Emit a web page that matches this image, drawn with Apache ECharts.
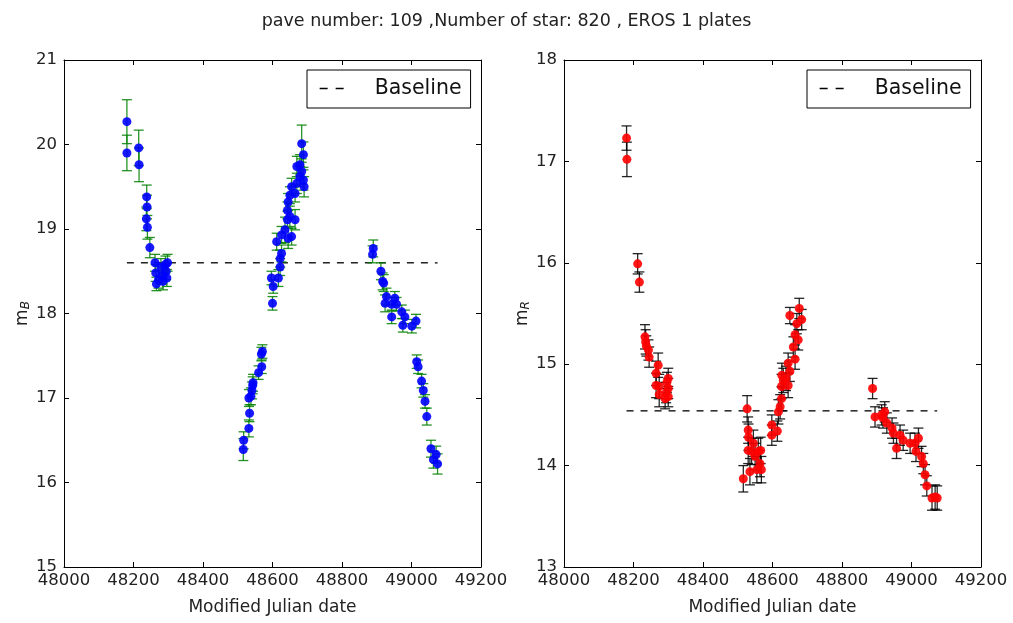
<!DOCTYPE html>
<html>
<head>
<meta charset="utf-8">
<script src="https://cdn.jsdelivr.net/npm/echarts@6/dist/echarts.min.js"></script>
<style>html,body{margin:0;padding:0;background:#fff}#c{width:1013px;height:623px}</style>
</head>
<body>
<div id="c"></div>
<script>
// ---------- data ----------
const titleText = 'pave number: 109 ,Number of star: 820 , EROS 1 plates';
const xTicks = [48000, 48200, 48400, 48600, 48800, 49000, 49200];
const yTicksB = [15, 16, 17, 18, 19, 20, 21];
const yTicksR = [13, 14, 15, 16, 17, 18];

const dateB = [48181,48181,48215,48216,48238,48239,48237,48240,48247,48262,48264,48266,48272,48279,48283,48285,48292,48294,48296,48298,
  48516,48517,48532,48534,48532,48538,48541,48543,48544,48560,48569,48568,48571,
  48600,48602,48597,48617,48622,48622,48626,48612,48626,48636,48645,48655,48643,48650,48665,48643,48645,48650,48655,48665,48670,48670,48679,48684,48679,48689,48691,48689,48684,
  48890,48888,48912,48917,48920,48928,48924,48952,48943,48957,48943,48972,48981,48975,49001,49013,49015,49019,49029,49034,49039,49044,49056,49063,49071,49075];
const magB = [20.27,19.90,19.96,19.76,19.38,19.26,19.12,19.02,18.78,18.60,18.48,18.35,18.40,18.55,18.45,18.38,18.58,18.50,18.42,18.60,
  16.39,16.50,16.64,16.82,17.00,17.02,17.09,17.15,17.18,17.30,17.37,17.52,17.55,
  18.12,18.32,18.42,18.42,18.55,18.65,18.71,18.85,18.93,18.99,18.89,18.91,19.11,19.15,19.11,19.22,19.32,19.40,19.50,19.42,19.54,19.74,19.76,19.68,19.62,19.58,19.50,19.88,20.01,
  18.77,18.70,18.50,18.38,18.36,18.20,18.12,18.18,18.11,18.11,17.96,18.02,17.96,17.86,17.85,17.91,17.43,17.37,17.20,17.09,16.96,16.78,16.40,16.27,16.33,16.22];
const errB = [0.26,0.21,0.21,0.20,0.14,0.14,0.14,0.14,0.12,0.10,0.10,0.08,0.10,0.10,0.10,0.10,0.10,0.10,0.10,0.10,
  0.13,0.10,0.10,0.10,0.10,0.10,0.10,0.10,0.10,0.08,0.08,0.08,0.08,
  0.08,0.08,0.08,0.10,0.10,0.10,0.10,0.10,0.10,0.15,0.12,0.10,0.10,0.12,0.12,0.10,0.10,0.10,0.10,0.10,0.12,0.12,0.12,0.15,0.12,0.12,0.12,0.15,0.22,
  0.10,0.10,0.10,0.10,0.10,0.10,0.10,0.08,0.08,0.08,0.08,0.08,0.08,0.08,0.08,0.08,0.08,0.08,0.08,0.08,0.08,0.10,0.10,0.10,0.10,0.12];

const dateR = [48180,48181,48212,48217,48233,48235,48237,48243,48245,48271,48265,48265,48274,48274,48300,48300,48300,48291,48294,48296,
  48527,48516,48530,48531,48530,48535,48545,48550,48559,48564,48568,48566,48555,48540,
  48598,48598,48614,48617,48622,48626,48626,48631,48627,48639,48645,48650,48645,48665,48660,48665,48674,48650,48670,48677,48684,
  48888,48895,48914,48918,48923,48929,48944,48948,48957,48967,48976,48996,49010,49020,49013,49029,49034,49039,49044,49059,49068,49074];
const magR = [17.23,17.02,15.99,15.81,15.27,15.22,15.18,15.14,15.07,14.99,14.91,14.79,14.78,14.70,14.86,14.76,14.68,14.66,14.72,14.82,
  14.56,13.87,14.35,14.28,14.15,13.94,14.22,14.09,14.14,14.02,13.96,14.15,13.96,14.14,
  14.40,14.30,14.34,14.53,14.58,14.66,14.78,14.84,14.89,14.86,14.79,14.93,15.01,15.05,15.17,15.29,15.24,15.48,15.40,15.55,15.44,
  14.76,14.48,14.50,14.47,14.53,14.42,14.37,14.32,14.17,14.30,14.25,14.22,14.22,14.27,14.14,14.09,14.02,13.91,13.80,13.68,13.69,13.68];
const errR = [0.12,0.17,0.10,0.10,0.12,0.12,0.10,0.10,0.10,0.12,0.12,0.12,0.12,0.12,0.10,0.10,0.10,0.10,0.10,0.10,
  0.13,0.13,0.13,0.13,0.13,0.13,0.13,0.13,0.13,0.13,0.13,0.13,0.13,0.13,
  0.10,0.10,0.10,0.12,0.12,0.12,0.12,0.12,0.12,0.12,0.12,0.10,0.10,0.10,0.10,0.10,0.10,0.08,0.10,0.10,0.10,
  0.10,0.10,0.10,0.10,0.10,0.10,0.10,0.10,0.10,0.10,0.10,0.10,0.10,0.10,0.10,0.10,0.10,0.10,0.10,0.12,0.12,0.12];

const baselineB = 18.60;
const baselineR = 14.54;

// ---------- build ----------
const FONT = 'DejaVu Sans';
function zip2(a, b) { return a.map((v, i) => [v, b[i]]); }
function zip3(a, b, c) { return a.map((v, i) => [v, b[i], c[i]]); }
const xMinB = Math.min(...dateB), xMaxB = Math.max(...dateB);
const xMinR = Math.min(...dateR), xMaxR = Math.max(...dateR);

function errRender(color) {
  return function (params, api) {
    const x = api.value(0), y = api.value(1), e = api.value(2);
    const p1 = api.coord([x, y - e]);
    const p2 = api.coord([x, y + e]);
    const cap = 5;
    const style = { stroke: color, lineWidth: 1.3, opacity: 0.85 };
    return {
      type: 'group',
      children: [
        { type: 'line', shape: { x1: p1[0], y1: p1[1], x2: p2[0], y2: p2[1] }, style },
        { type: 'line', shape: { x1: p1[0] - cap, y1: p1[1], x2: p1[0] + cap, y2: p1[1] }, style },
        { type: 'line', shape: { x1: p2[0] - cap, y1: p2[1], x2: p2[0] + cap, y2: p2[1] }, style }
      ]
    };
  };
}

const axisLine = { show: true, onZero: false, lineStyle: { color: '#000', width: 1 } };
const tickIn = { show: true, inside: true, length: 5, lineStyle: { color: '#000' } };
const labelStyle = { color: '#222', fontFamily: FONT, fontSize: 16.5, formatter: v => String(v) };

function xAxes(gi) {
  return [
    { type: 'value', gridIndex: gi, min: xTicks[0], max: xTicks[xTicks.length - 1], interval: 200,
      axisLine, axisTick: tickIn, axisLabel: Object.assign({ margin: 5 }, labelStyle), splitLine: { show: false },
      name: 'Modified Julian date', nameLocation: 'middle', nameGap: 32,
      nameTextStyle: { fontFamily: FONT, fontSize: 17, color: '#222' } },
    { type: 'value', gridIndex: gi, position: 'top', min: xTicks[0], max: xTicks[xTicks.length - 1], interval: 200,
      axisLine, axisTick: tickIn, axisLabel: { show: false }, splitLine: { show: false } }
  ];
}
function yAxes(gi, ticks, sub) {
  return [
    { type: 'value', gridIndex: gi, min: ticks[0], max: ticks[ticks.length - 1], interval: 1,
      axisLine, axisTick: tickIn, axisLabel: Object.assign({ margin: 7 }, labelStyle), splitLine: { show: false },
      name: '{m|m}{s|' + sub + '}', nameLocation: 'middle', nameGap: 30,
      nameTextStyle: { rich: {
        m: { fontFamily: FONT, fontSize: 17, color: '#222' },
        s: { fontFamily: FONT, fontSize: 12, fontStyle: 'italic', color: '#222', verticalAlign: 'bottom', padding: [8, 0, 0, 0] }
      } } },
    { type: 'value', gridIndex: gi, position: 'right', min: ticks[0], max: ticks[ticks.length - 1], interval: 1,
      axisLine, axisTick: tickIn, axisLabel: { show: false }, splitLine: { show: false } }
  ];
}

function legendAt(left) {
  return { left: left, top: 70, data: ['Baseline'], orient: 'vertical', itemWidth: 32, itemHeight: 14, itemGap: 5,
    padding: [8, 9, 9, 12], borderColor: '#000', borderWidth: 1, borderRadius: 0, backgroundColor: '#fff',
    itemStyle: { opacity: 0 },
    lineStyle: { type: [8, 8], width: 1.3, color: '#000' },
    textStyle: { fontFamily: FONT, fontSize: 20.5, color: '#111', padding: [0, 0, 0, 18] }, selectedMode: false };
}

const chart = echarts.init(document.getElementById('c'), null, { renderer: 'canvas' });
chart.setOption({
  animation: false,
  backgroundColor: '#fff',
  title: { text: titleText, left: 'center', top: 7,
    textStyle: { fontFamily: FONT, fontSize: 17.5, fontWeight: 'normal', color: '#222' } },
  grid: [
    { left: 64, top: 60, width: 417, height: 507 },
    { left: 564, top: 60, width: 417, height: 507 }
  ],
  xAxis: [...xAxes(0), ...xAxes(1)],
  yAxis: [...yAxes(0, yTicksB, 'B'), ...yAxes(1, yTicksR, 'R')],
  legend: [legendAt(307), legendAt(807)],
  series: [
    { name: 'Baseline', type: 'line', xAxisIndex: 0, yAxisIndex: 0, symbol: 'none',
      lineStyle: { color: '#000', type: [7, 7], width: 1.3 }, itemStyle: { color: '#000' },
      data: [[xMinB, baselineB], [xMaxB, baselineB]], z: 1 },
    { type: 'custom', xAxisIndex: 0, yAxisIndex: 0, renderItem: errRender('#008000'),
      data: zip3(dateB, magB, errB), z: 2 },
    { type: 'scatter', xAxisIndex: 0, yAxisIndex: 0, symbol: 'circle', symbolSize: 9,
      itemStyle: { color: '#0000ff', opacity: 0.9 }, data: zip2(dateB, magB), z: 3 },

    { name: 'Baseline', type: 'line', xAxisIndex: 2, yAxisIndex: 2, symbol: 'none',
      lineStyle: { color: '#000', type: [7, 7], width: 1.3 }, itemStyle: { color: '#000' },
      data: [[xMinR, baselineR], [xMaxR, baselineR]], z: 1 },
    { type: 'custom', xAxisIndex: 2, yAxisIndex: 2, renderItem: errRender('#000000'),
      data: zip3(dateR, magR, errR), z: 2 },
    { type: 'scatter', xAxisIndex: 2, yAxisIndex: 2, symbol: 'circle', symbolSize: 9,
      itemStyle: { color: '#ff0000', opacity: 0.9 }, data: zip2(dateR, magR), z: 3 }
  ]
});
</script>
</body>
</html>
